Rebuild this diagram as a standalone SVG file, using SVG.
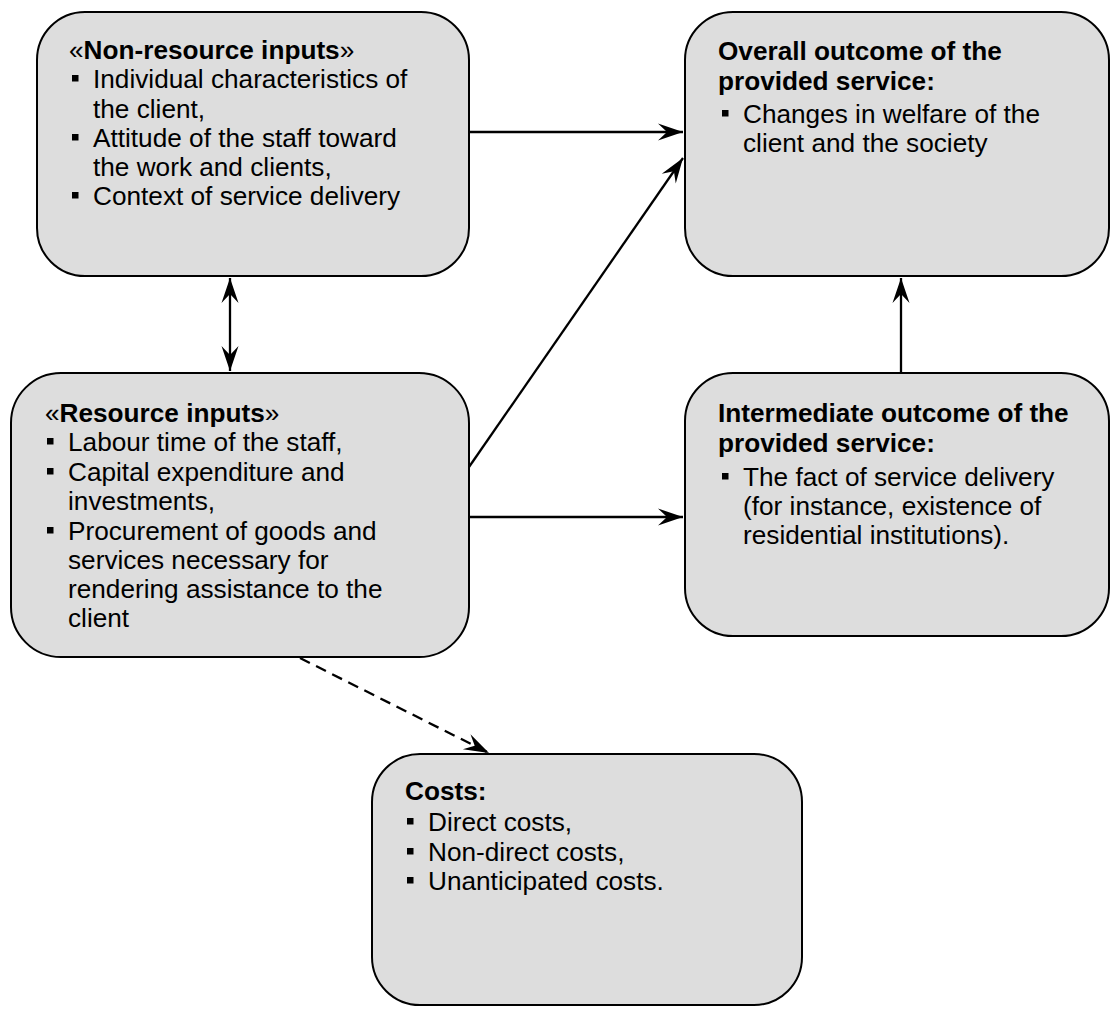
<svg xmlns="http://www.w3.org/2000/svg" width="1111" height="1016" viewBox="0 0 1111 1016">
<style>
.box{fill:#dddddd;stroke:#000;stroke-width:2}
text{font-family:"Liberation Sans",Arial,sans-serif;font-size:26.2px;fill:#000}
.t{font-weight:bold}
.q{font-weight:normal}
.b{fill:#000}
.c{fill:none;stroke:#000;stroke-width:2.3}
.d{stroke-dasharray:11 7}
</style>
<defs>
<marker id="ah" markerUnits="userSpaceOnUse" markerWidth="30" markerHeight="22" viewBox="-27 -11 29 22" refX="0" refY="0" orient="auto-start-reverse">
<path d="M0,0 L-25,-8.5 L-16,0 L-25,8.5 Z" fill="#000"/>
</marker>
</defs>
<rect width="1111" height="1016" fill="#fff"/>
<g id="connectors">
<line class="c" x1="469" y1="132" x2="683" y2="132" marker-end="url(#ah)"/>
<line class="c" x1="469" y1="467" x2="683" y2="158" marker-end="url(#ah)"/>
<line class="c" x1="469" y1="517" x2="683" y2="517" marker-end="url(#ah)"/>
<line class="c" x1="230" y1="278" x2="230" y2="371" marker-start="url(#ah)" marker-end="url(#ah)"/>
<line class="c" x1="901" y1="373" x2="901" y2="278" marker-end="url(#ah)"/>
<line class="c d" x1="300" y1="658" x2="489" y2="753" marker-end="url(#ah)"/>
</g>
<g id="non-resource">
<rect class="box" x="37" y="12" width="432" height="264" rx="48"/>
<text class="t" x="69" y="59"><tspan class="q">«</tspan>Non-resource inputs<tspan class="q">»</tspan></text>
<rect class="b" x="72" y="75" width="6.5" height="6.5"/>
<text x="93" y="88">Individual characteristics of</text>
<text x="93" y="118">the client,</text>
<rect class="b" x="72" y="134" width="6.5" height="6.5"/>
<text x="93" y="147">Attitude of the staff toward</text>
<text x="93" y="176">the work and clients,</text>
<rect class="b" x="72" y="192" width="6.5" height="6.5"/>
<text x="93" y="205">Context of service delivery</text>
</g>
<g id="resource">
<rect class="box" x="11" y="373" width="458" height="284" rx="50"/>
<text class="t" x="45" y="422"><tspan class="q">«</tspan>Resource inputs<tspan class="q">»</tspan></text>
<rect class="b" x="47" y="438" width="6.5" height="6.5"/>
<text x="68" y="451">Labour time of the staff,</text>
<rect class="b" x="47" y="468" width="6.5" height="6.5"/>
<text x="68" y="481">Capital expenditure and</text>
<text x="68" y="510">investments,</text>
<rect class="b" x="47" y="527" width="6.5" height="6.5"/>
<text x="68" y="540">Procurement of goods and</text>
<text x="68" y="569">services necessary for</text>
<text x="68" y="598">rendering assistance to the</text>
<text x="68" y="627">client</text>
</g>
<g id="overall">
<rect class="box" x="685" y="12" width="424" height="264" rx="48"/>
<text class="t" x="718" y="60">Overall outcome of the</text>
<text class="t" x="718" y="90">provided service:</text>
<rect class="b" x="722" y="110" width="6.5" height="6.5"/>
<text x="743" y="123">Changes in welfare of the</text>
<text x="743" y="152">client and the society</text>
</g>
<g id="intermediate">
<rect class="box" x="685" y="373" width="424" height="263" rx="48"/>
<text class="t" x="718" y="422">Intermediate outcome of the</text>
<text class="t" x="718" y="452">provided service:</text>
<rect class="b" x="722" y="473" width="6.5" height="6.5"/>
<text x="743" y="486">The fact of service delivery</text>
<text x="743" y="515">(for instance, existence of</text>
<text x="743" y="544">residential institutions).</text>
</g>
<g id="costs">
<rect class="box" x="372" y="754" width="430" height="251" rx="48"/>
<text class="t" x="405" y="800">Costs:</text>
<rect class="b" x="407" y="818" width="6.5" height="6.5"/>
<text x="428" y="831">Direct costs,</text>
<rect class="b" x="407" y="848" width="6.5" height="6.5"/>
<text x="428" y="861">Non-direct costs,</text>
<rect class="b" x="407" y="877" width="6.5" height="6.5"/>
<text x="428" y="890">Unanticipated costs.</text>
</g>
</svg>
